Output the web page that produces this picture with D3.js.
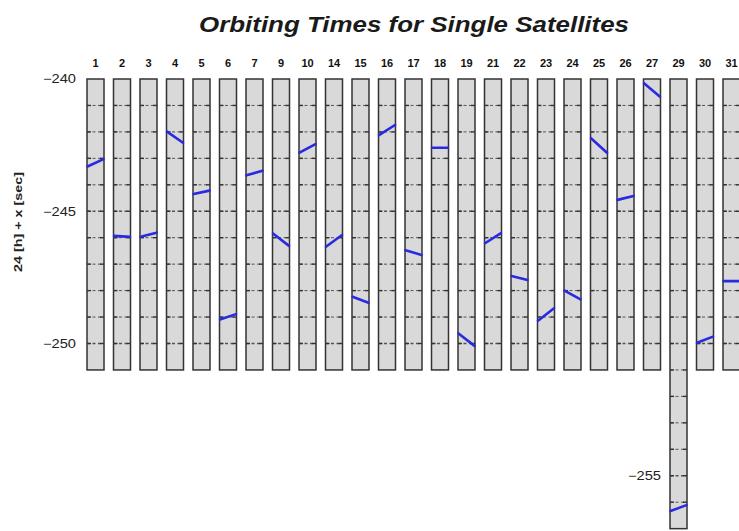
<!DOCTYPE html>
<html>
<head>
<meta charset="utf-8">
<script src="https://cdn.jsdelivr.net/npm/d3@7"></script>
<style>
  html, body { margin: 0; padding: 0; background: #fff; }
  svg { display: block; }
  text { font-family: "Liberation Sans", Arial, sans-serif; }
</style>
</head>
<body>
<svg id="chart" width="739" height="531"></svg>
<script>
const satellites = ["1","2","3","4","5","6","7","9","10","14","15","16","17","18","19","21","22","23","24","25","26","27","29","30","31"];
const startValues = [-243.31,-245.93,-245.96,-241.99,-244.35,-249.09,-243.64,-245.84,-242.78,-246.34,-248.23,-242.12,-246.47,-242.60,-249.62,-246.21,-247.45,-249.14,-248.00,-242.24,-244.57,-240.16,-256.33,-249.97,-247.64];
const endValues   = [-243.03,-245.97,-245.81,-242.41,-244.22,-248.89,-243.47,-246.31,-242.46,-245.90,-248.46,-241.74,-246.65,-242.60,-250.09,-245.83,-247.60,-248.67,-248.33,-242.79,-244.42,-240.67,-256.11,-249.74,-247.64];
const panelBottoms = [-251,-251,-251,-251,-251,-251,-251,-251,-251,-251,-251,-251,-251,-251,-251,-251,-251,-251,-251,-251,-251,-251,-257,-251,-251];
const yTicksMain = [-240,-245,-250];
const yTicksExtra = [-255];
const titleText = "Orbiting Times for Single Satellites";
const yLabelText = "24 [h] + x [sec]";

const svg = d3.select("#chart");

const x = d3.scaleBand()
  .domain(satellites)
  .range([87, 87 + 25 * 26.5 - 9.5])
  .paddingInner(9.5 / 26.5)
  .paddingOuter(0);

const y = d3.scaleLinear().domain([-240, -257]).range([79, 79 + 17 * 26.45]);

// Title
svg.append("text")
  .attr("x", 414).attr("y", 32)
  .attr("text-anchor", "middle")
  .attr("textLength", 430).attr("lengthAdjust", "spacingAndGlyphs")
  .style("font-size", "22.5px").style("font-weight", "bold").style("font-style", "italic")
  .attr("fill", "#1a1a1a")
  .text(titleText);

// Y label
svg.append("text")
  .attr("transform", "translate(22,222) rotate(-90)")
  .attr("text-anchor", "middle")
  .attr("textLength", 100).attr("lengthAdjust", "spacingAndGlyphs")
  .style("font-size", "11px").style("font-weight", "bold")
  .attr("fill", "#222")
  .text(yLabelText);

// Panels
const data = satellites.map((s, i) => ({ s, a: startValues[i], b: endValues[i], bottom: panelBottoms[i] }));

const panel = svg.selectAll("g.panel").data(data).join("g").attr("class", "panel");

panel.append("rect")
  .attr("x", d => x(d.s))
  .attr("y", y(-240))
  .attr("width", x.bandwidth())
  .attr("height", d => y(d.bottom) - y(-240))
  .attr("fill", "#d9d9d9")
  .attr("stroke", "#333")
  .attr("stroke-width", 1.5);

panel.each(function(d) {
  const g = d3.select(this);
  const ticks = d3.range(-241, d.bottom, -1);
  const x0 = x(d.s), x1 = x(d.s) + x.bandwidth();
  g.selectAll("line.grid").data(ticks).join("line")
    .attr("class", "grid")
    .attr("x1", x0).attr("x2", x1)
    .attr("y1", t => y(t)).attr("y2", t => y(t))
    .attr("stroke", "#555")
    .attr("stroke-width", t => t % 5 === 0 ? 1.3 : 1)
    .attr("stroke-dasharray", "3,2.5");
  g.selectAll("line.tl").data(ticks).join("line")
    .attr("class", "tl")
    .attr("x1", x0).attr("x2", x0 + 4)
    .attr("y1", t => y(t)).attr("y2", t => y(t))
    .attr("stroke", "#333").attr("stroke-width", 1.4);
  g.selectAll("line.tr").data(ticks).join("line")
    .attr("class", "tr")
    .attr("x1", x1 - 4).attr("x2", x1)
    .attr("y1", t => y(t)).attr("y2", t => y(t))
    .attr("stroke", "#333").attr("stroke-width", 1.4);
});

panel.append("line")
  .attr("x1", d => x(d.s) + 0.5)
  .attr("x2", d => x(d.s) + x.bandwidth() - 0.5)
  .attr("y1", d => y(d.a))
  .attr("y2", d => y(d.b))
  .attr("stroke", "#2a2ae0")
  .attr("stroke-width", 2.6)
  .attr("stroke-linecap", "round");

// Top category labels
const topAxis = svg.append("g")
  .attr("transform", `translate(0,${y(-240)})`)
  .call(d3.axisTop(x).tickSize(0).tickPadding(12));
topAxis.select(".domain").remove();
topAxis.selectAll("text")
  .style("font-size", "11px").style("font-weight", "bold")
  .style("font-family", "'Liberation Sans', Arial, sans-serif")
  .attr("fill", "#111");

function styleY(sel) {
  sel.select(".domain").remove();
  sel.selectAll("text")
    .attr("textLength", 33).attr("lengthAdjust", "spacingAndGlyphs")
    .style("font-size", "12px")
    .style("font-family", "'Liberation Sans', Arial, sans-serif")
    .attr("fill", "#222");
}

// Left y axis
const leftAxis = svg.append("g")
  .attr("transform", `translate(${x(satellites[0])},0)`)
  .call(d3.axisLeft(y).tickValues(yTicksMain).tickSize(0).tickPadding(11));
styleY(leftAxis);

// Extra label next to long panel
const extraAxis = svg.append("g")
  .attr("transform", `translate(${x("29")},0)`)
  .call(d3.axisLeft(y).tickValues(yTicksExtra).tickSize(0).tickPadding(9));
styleY(extraAxis);
</script>
</body>
</html>
